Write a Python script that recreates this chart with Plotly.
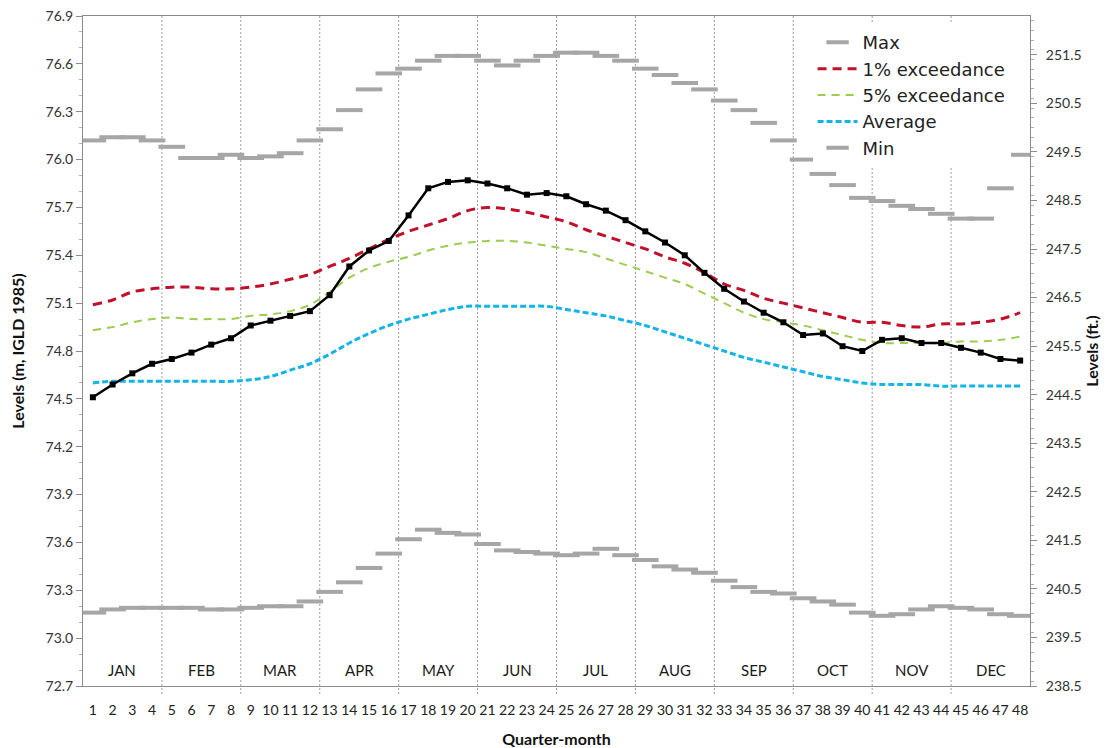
import plotly.graph_objects as go

quarter_month = list(range(1, 49))
months = ["JAN", "FEB", "MAR", "APR", "MAY", "JUN", "JUL", "AUG", "SEP", "OCT", "NOV", "DEC"]

level_max = [76.12, 76.14, 76.14, 76.12, 76.08, 76.01, 76.01, 76.03, 76.01, 76.02, 76.04, 76.12,
             76.19, 76.31, 76.44, 76.54, 76.57, 76.62, 76.65, 76.65, 76.62, 76.59, 76.62, 76.65,
             76.67, 76.67, 76.65, 76.62, 76.57, 76.53, 76.48, 76.44, 76.37, 76.31, 76.23, 76.12,
             76.00, 75.91, 75.84, 75.76, 75.74, 75.71, 75.69, 75.66, 75.63, 75.63, 75.82, 76.03]

level_min = [73.16, 73.18, 73.19, 73.19, 73.19, 73.19, 73.18, 73.18, 73.19, 73.20, 73.20, 73.23,
             73.29, 73.35, 73.44, 73.53, 73.62, 73.68, 73.66, 73.65, 73.59, 73.55, 73.54, 73.53,
             73.52, 73.53, 73.56, 73.52, 73.49, 73.45, 73.43, 73.41, 73.36, 73.32, 73.29, 73.28,
             73.25, 73.23, 73.21, 73.16, 73.14, 73.15, 73.18, 73.20, 73.19, 73.18, 73.15, 73.14]

exc_1pct = [75.09, 75.12, 75.17, 75.19, 75.20, 75.20, 75.19, 75.19, 75.20, 75.22, 75.25, 75.28,
            75.33, 75.38, 75.44, 75.50, 75.55, 75.59, 75.63, 75.68, 75.70, 75.69, 75.67, 75.64,
            75.61, 75.56, 75.52, 75.48, 75.44, 75.39, 75.35, 75.29, 75.22, 75.18, 75.13, 75.10,
            75.07, 75.04, 75.01, 74.98, 74.98, 74.96, 74.95, 74.97, 74.97, 74.98, 75.00, 75.04]

exc_5pct = [74.93, 74.95, 74.98, 75.00, 75.01, 75.00, 75.00, 75.00, 75.02, 75.03, 75.05, 75.09,
            75.17, 75.26, 75.32, 75.36, 75.39, 75.43, 75.46, 75.48, 75.49, 75.49, 75.48, 75.46,
            75.44, 75.42, 75.38, 75.34, 75.30, 75.26, 75.22, 75.16, 75.10, 75.04, 75.00, 74.98,
            74.96, 74.93, 74.90, 74.87, 74.85, 74.85, 74.85, 74.85, 74.86, 74.86, 74.87, 74.89]

average = [74.60, 74.61, 74.61, 74.61, 74.61, 74.61, 74.61, 74.61, 74.62, 74.64, 74.68, 74.72,
           74.78, 74.85, 74.91, 74.96, 75.00, 75.03, 75.06, 75.08, 75.08, 75.08, 75.08, 75.08,
           75.06, 75.04, 75.02, 74.99, 74.96, 74.92, 74.88, 74.84, 74.80, 74.76, 74.73, 74.70,
           74.67, 74.64, 74.62, 74.60, 74.59, 74.59, 74.59, 74.58, 74.58, 74.58, 74.58, 74.58]

observed = [74.51, 74.59, 74.66, 74.72, 74.75, 74.79, 74.84, 74.88, 74.96, 74.99, 75.02, 75.05,
            75.15, 75.33, 75.43, 75.49, 75.65, 75.82, 75.86, 75.87, 75.85, 75.82, 75.78, 75.79,
            75.77, 75.72, 75.68, 75.62, 75.55, 75.48, 75.40, 75.29, 75.19, 75.11, 75.04, 74.98,
            74.90, 74.91, 74.83, 74.80, 74.87, 74.88, 74.85, 74.85, 74.82, 74.79, 74.75, 74.74]

FONT = "Lato"
fig = go.Figure()

gray = "#a6a6a6"
fig.add_trace(go.Scatter(x=quarter_month, y=level_max, mode="markers", name="Max",
                         marker=dict(symbol="line-ew", size=19, color=gray,
                                     line=dict(color=gray, width=4))))
fig.add_trace(go.Scatter(x=quarter_month, y=exc_1pct, mode="lines", name="1% exceedance",
                         line=dict(color="#c0102a", width=3, dash="9px,6px", shape="spline")))
fig.add_trace(go.Scatter(x=quarter_month, y=exc_5pct, mode="lines", name="5% exceedance",
                         line=dict(color="#9ccc50", width=2, dash="8px,6px", shape="spline")))
fig.add_trace(go.Scatter(x=quarter_month, y=average, mode="lines", name="Average",
                         line=dict(color="#14b4e6", width=3, dash="6px,3px", shape="spline")))
fig.add_trace(go.Scatter(x=quarter_month, y=level_min, mode="markers", name="Min",
                         marker=dict(symbol="line-ew", size=19, color=gray,
                                     line=dict(color=gray, width=4))))
fig.add_trace(go.Scatter(x=quarter_month, y=observed, mode="lines+markers", name="Observed",
                         showlegend=False,
                         line=dict(color="black", width=2.5),
                         marker=dict(symbol="square", size=6, color="black")))
# dummy trace for right axis
fig.add_trace(go.Scatter(x=[quarter_month[0]], y=[240], yaxis="y2", mode="markers",
                         marker=dict(opacity=0), showlegend=False, hoverinfo="skip"))

# month boundaries and labels
for k in range(1, 12):
    xb = 4 * k + 0.5
    fig.add_shape(type="line", xref="x", yref="paper", x0=xb, x1=xb, y0=-0.012, y1=1,
                  line=dict(color="#9a9a9a", width=1, dash="2px,2px"), layer="below")
for i, m in enumerate(months):
    fig.add_annotation(x=4 * i + 2.5, y=72.80, text=m, showarrow=False,
                       font=dict(family=FONT, size=15, color="#1a1a1a"))

fig.update_layout(
    width=1104, height=740,
    margin=dict(l=75, r=82, t=8, b=62),
    paper_bgcolor="white", plot_bgcolor="white",
    showlegend=True,
    legend=dict(x=0.7704, y=0.988, xanchor="left", yanchor="top",
                bgcolor="white", font=dict(family="DejaVu Sans", size=18, color="#222"),
                tracegroupgap=0, itemwidth=40),
    xaxis=dict(range=[0.5, 48.5], tickmode="array", tickvals=quarter_month,
               ticktext=[str(v) for v in quarter_month], ticks="", showgrid=False,
               showline=True, linecolor="#8c8c8c", linewidth=1, mirror=True,
               automargin=False, ticklabelstandoff=11, ticklabeloverflow="allow",
               tickfont=dict(family=FONT, size=14, color="#222"),
               title=dict(text="<b>Quarter-month</b>", font=dict(family=FONT, size=16, color="#111"),
                          standoff=17),
               zeroline=False),
    yaxis=dict(range=[72.7, 76.9], tick0=72.7, dtick=0.3, tickformat=".1f", showgrid=False,
               showline=True, linecolor="#8c8c8c", linewidth=1,
               ticks="outside", ticklen=6, tickcolor="#8c8c8c", automargin=False,
               ticklabeloverflow="allow",
               minor=dict(dtick=0.1, ticks="outside", ticklen=3, tickcolor="#b0b0b0"),
               tickfont=dict(family=FONT, size=14, color="#333"),
               title=dict(text="<b>Levels (m, IGLD 1985)</b>", font=dict(family=FONT, size=16, color="#111"),
                          standoff=16),
               zeroline=False),
    yaxis2=dict(overlaying="y", side="right", range=[238.5, 252.3], tick0=238.5, dtick=1,
                tickformat=".1f", showgrid=False, showline=True, linecolor="#8c8c8c", linewidth=1,
                ticks="outside", ticklen=6, tickcolor="#8c8c8c", automargin=False,
                ticklabelstandoff=6, ticklabeloverflow="allow",
                minor=dict(dtick=0.2, ticks="outside", ticklen=3, tickcolor="#b0b0b0"),
                tickfont=dict(family=FONT, size=14, color="#333"),
                title=dict(text="<b>Levels (ft.)</b>", font=dict(family=FONT, size=16, color="#111"),
                           standoff=4),
                zeroline=False),
)

fig.write_html("out.html")
